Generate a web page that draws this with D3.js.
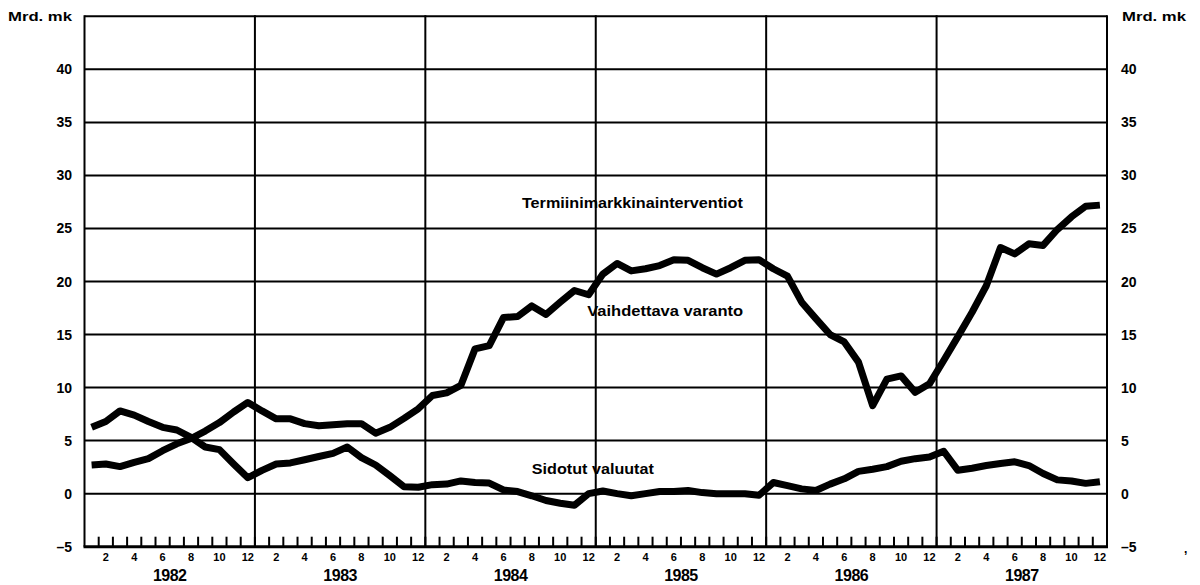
<!DOCTYPE html>
<html>
<head>
<meta charset="utf-8">
<script src="https://cdn.jsdelivr.net/npm/d3@7/dist/d3.min.js"></script>
<style>
  html, body { margin: 0; padding: 0; background: #fff; }
  svg { display: block; }
  text { font-family: "Liberation Sans", Arial, sans-serif; font-weight: bold; fill: #000; }
</style>
</head>
<body>
<div id="chart"></div>
<script>
// Years shown, one panel per year, months as intervals
const YEARS = [1982, 1983, 1984, 1985, 1986, 1987];
const MONTH_LABELS = [2, 4, 6, 8, 10, 12];
const Y_TICKS = [-5, 0, 5, 10, 15, 20, 25, 30, 35, 40];

// Monthly values, Jan 1982 .. Dec 1987 (mrd. mk)
const VAIHDETTAVA = [
  2.7, 2.8, 2.55, 2.95, 3.3, 4.05, 4.7, 5.2, 5.9, 6.7, 7.7, 8.6,
  7.8, 7.05, 7.05, 6.6, 6.4, 6.5, 6.6, 6.6, 5.7, 6.25, 7.1, 8.0,
  9.25, 9.5, 10.2, 13.65, 13.95, 16.6, 16.7, 17.7, 16.9, 18.05, 19.15, 18.75,
  20.7, 21.7, 21.0, 21.2, 21.5, 22.05, 22.0, 21.3, 20.7, 21.3, 22.0, 22.05,
  21.2, 20.5, 18.05, 16.5, 15.0, 14.3, 12.4, 8.3, 10.8, 11.1, 9.55, 10.35,
  12.55, 14.8, 17.1, 19.6, 23.2, 22.6, 23.55, 23.4, 24.9, 26.1, 27.1, 27.2
];
const SIDOTUT = [
  6.25, 6.8, 7.8, 7.4, 6.8, 6.25, 6.0, 5.3, 4.4, 4.15, 2.8, 1.5,
  2.2, 2.8, 2.9, 3.2, 3.5, 3.8, 4.4, 3.4, 2.7, 1.7, 0.66, 0.6,
  0.85, 0.9, 1.2, 1.05, 1.0, 0.35, 0.2, -0.2, -0.65, -0.9, -1.1, 0.0,
  0.25, 0.0, -0.2, 0.0, 0.2, 0.2, 0.3, 0.1, 0.0, 0.0, 0.0, -0.15,
  1.05, 0.75, 0.45, 0.3, 0.9, 1.4, 2.1, 2.3, 2.55, 3.05, 3.3, 3.45,
  4.0, 2.2, 2.4, 2.65, 2.85, 3.0, 2.65, 1.9, 1.3, 1.2, 0.97, 1.13
];

const LABELS = [
  { text: "Termiinimarkkinainterventiot", month: 30.8, value: 26.9, width: 221 },
  { text: "Vaihdettava varanto", month: 35.4, value: 16.75, width: 156 },
  { text: "Sidotut valuutat", month: 31.5, value: 1.85, width: 122 }
];

const W = 1200, H = 585;
const plotLeft = 84.5, plotRight = 1107, plotTop = 16.3, plotBottom = 546.7;

const svg = d3.select("#chart").append("svg")
  .attr("width", W).attr("height", H);

// month index (0..72) -> x, index i is the start of month i
const x = d3.scaleLinear().domain([0, YEARS.length * 12]).range([plotLeft, plotRight]);
const y = d3.scaleLinear().domain([-5, 45]).range([plotBottom, plotTop]);

// horizontal gridlines incl. top border
const grid = svg.append("g");
d3.range(0, 50, 5).forEach((v) => {
  grid.append("line")
    .attr("x1", plotLeft).attr("x2", plotRight)
    .attr("y1", y(v)).attr("y2", y(v))
    .attr("stroke", "#000").attr("stroke-width", 2);
});

// year separators + frame sides
d3.range(0, YEARS.length + 1).forEach((k) => {
  grid.append("line")
    .attr("x1", x(k * 12)).attr("x2", x(k * 12))
    .attr("y1", plotTop - 1).attr("y2", plotBottom)
    .attr("stroke", "#000").attr("stroke-width", 2);
});

// bottom axis line with month ticks
grid.append("line")
  .attr("x1", plotLeft - 1).attr("x2", plotRight + 1)
  .attr("y1", plotBottom).attr("y2", plotBottom)
  .attr("stroke", "#000").attr("stroke-width", 3);

d3.range(1, YEARS.length * 12).forEach((i) => {
  grid.append("line")
    .attr("x1", x(i)).attr("x2", x(i))
    .attr("y1", plotBottom).attr("y2", plotBottom - 10)
    .attr("stroke", "#000").attr("stroke-width", 2);
});

// month labels (centered in the month interval)
const xl = svg.append("g");
YEARS.forEach((yr, k) => {
  MONTH_LABELS.forEach((m) => {
    xl.append("text")
      .attr("x", x(k * 12 + m - 0.5))
      .attr("y", 561)
      .attr("text-anchor", "middle")
      .attr("font-size", 11)
      .text(m);
  });
  xl.append("text")
    .attr("x", x(k * 12 + 6))
    .attr("y", 581)
    .attr("text-anchor", "middle")
    .attr("font-size", 16)
    .attr("letter-spacing", -0.5)
    .text(yr);
});

// y tick labels both sides
const yl = svg.append("g");
Y_TICKS.forEach((v) => {
  const lab = v < 0 ? "\u2013" + Math.abs(v) : String(v);
  yl.append("text")
    .attr("x", 72).attr("y", y(v) + 5)
    .attr("text-anchor", "end")
    .attr("font-size", 14)
    .text(lab);
  yl.append("text")
    .attr("x", 1121).attr("y", y(v) + 5)
    .attr("text-anchor", "start")
    .attr("font-size", 14)
    .text(lab);
});

yl.append("text")
  .attr("x", 8).attr("y", 21)
  .attr("font-size", 13)
  .attr("textLength", 64).attr("lengthAdjust", "spacingAndGlyphs")
  .text("Mrd. mk");
yl.append("text")
  .attr("x", 1122).attr("y", 21)
  .attr("font-size", 13)
  .attr("textLength", 64).attr("lengthAdjust", "spacingAndGlyphs")
  .text("Mrd. mk");

// series lines
const line = d3.line()
  .x((d, i) => x(i + 0.5))
  .y((d) => y(d));

[VAIHDETTAVA, SIDOTUT].forEach((series) => {
  svg.append("path")
    .datum(series)
    .attr("d", line)
    .attr("fill", "none")
    .attr("stroke", "#000")
    .attr("stroke-width", 7)
    .attr("stroke-linejoin", "round");
});

// in-chart labels
LABELS.forEach((l) => {
  svg.append("text")
    .attr("x", x(l.month))
    .attr("y", y(l.value))
    .attr("font-size", 15)
    .attr("textLength", l.width).attr("lengthAdjust", "spacingAndGlyphs")
    .text(l.text);
});

// stray mark at lower right of the scan
svg.append("text")
  .attr("x", 1184).attr("y", 553)
  .attr("font-size", 12)
  .text(",");
</script>
</body>
</html>
